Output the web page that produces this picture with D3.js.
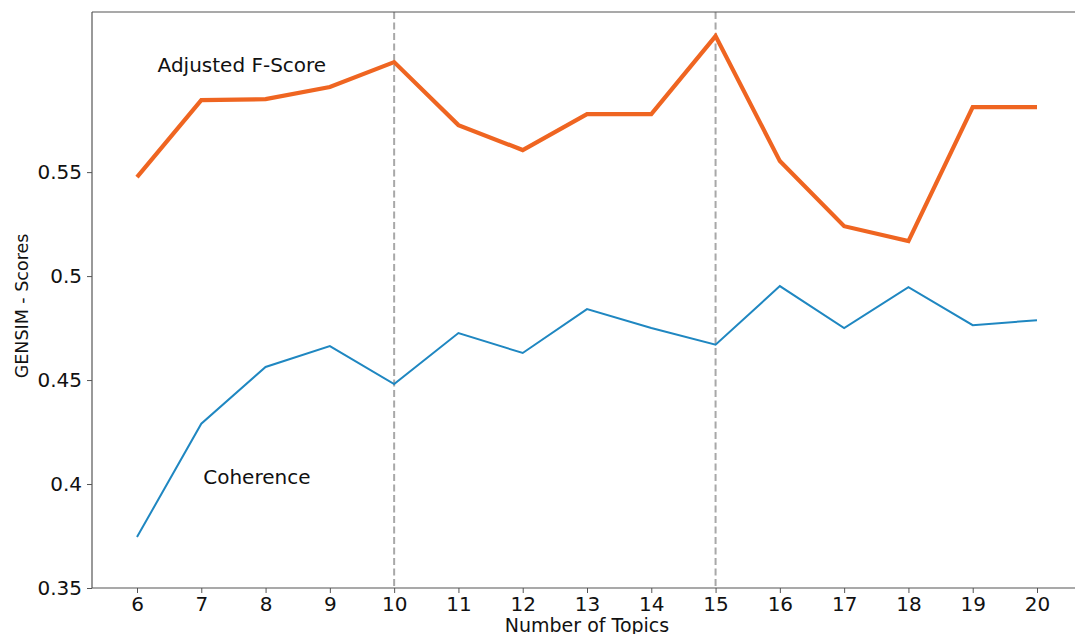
<!DOCTYPE html>
<html>
<head>
<meta charset="utf-8">
<script src="https://cdn.jsdelivr.net/npm/d3@7"></script>
<style>
  html, body { margin: 0; padding: 0; background: #fff; }
  svg { display: block; font-family: "DejaVu Sans", sans-serif; }
</style>
</head>
<body>
<svg id="chart" width="1075" height="634"></svg>
<script>
// Number of topics evaluated
const topics = [6, 7, 8, 9, 10, 11, 12, 13, 14, 15, 16, 17, 18, 19, 20];

// Adjusted F-Score per topic count
const fScore = [0.5476, 0.5846, 0.5851, 0.5909, 0.6029, 0.5726, 0.5606, 0.5779,
                0.5779, 0.6154, 0.5553, 0.5240, 0.5168, 0.5813, 0.5813];

// Coherence per topic count
const coherence = [0.3745, 0.4290, 0.4563, 0.4663, 0.4481, 0.4726, 0.4630, 0.4841,
                   0.4750, 0.4670, 0.4952, 0.4750, 0.4947, 0.4764, 0.4788];

// Tick values
const yTicks = [0.35, 0.40, 0.45, 0.50, 0.55];
const yTickLabels = ["0.35", "0.4", "0.45", "0.5", "0.55"];
const xTicks = topics;

// Highlighted topic counts
const markers = [10, 15];

// Series annotations
const labels = [
  { text: "Adjusted F-Score", x: 6.32, y: 0.598 },
  { text: "Coherence", x: 7.03, y: 0.400 }
];

const svg = d3.select("#chart");
const plot = { left: 92, top: 12, right: 1082, bottom: 588 };

const x = d3.scaleLinear().domain([5.3, 20.7]).range([plot.left, plot.right]);
const y = d3.scaleLinear().domain([0.35, 0.627]).range([plot.bottom, plot.top]);

// Dashed reference lines
svg.append("g").selectAll("line")
  .data(markers)
  .join("line")
  .attr("x1", d => x(d)).attr("x2", d => x(d))
  .attr("y1", plot.top).attr("y2", plot.bottom)
  .attr("stroke", "#a8a8a8")
  .attr("stroke-width", 2)
  .attr("stroke-dasharray", "7,3.5");

const line = d3.line().x((d, i) => x(topics[i])).y(d => y(d));

svg.append("path")
  .datum(fScore)
  .attr("d", line)
  .attr("fill", "none")
  .attr("stroke", "#ef6521")
  .attr("stroke-width", 4.2)
  .attr("stroke-linejoin", "miter");

svg.append("path")
  .datum(coherence)
  .attr("d", line)
  .attr("fill", "none")
  .attr("stroke", "#1f87c1")
  .attr("stroke-width", 2)
  .attr("stroke-linejoin", "miter");

// Axes
const xAxis = d3.axisBottom(x).tickValues(xTicks).tickFormat(d3.format("d"))
  .tickSize(5).tickPadding(4);
const yAxis = d3.axisLeft(y).tickValues(yTicks).tickFormat((d, i) => yTickLabels[i])
  .tickSize(5).tickPadding(5);

const gx = svg.append("g").attr("transform", `translate(0,${plot.bottom})`).call(xAxis);
const gy = svg.append("g").attr("transform", `translate(${plot.left},0)`).call(yAxis);

[gx, gy].forEach(g => {
  g.select(".domain").remove();
  g.selectAll(".tick line").attr("stroke", "#555").attr("stroke-width", 1);
  g.selectAll(".tick text").attr("fill", "#111")
    .style("font-family", "DejaVu Sans").style("font-size", "20px");
});

// Spines
const spines = [
  [plot.left, plot.top, plot.left, plot.bottom],
  [plot.left, plot.top, plot.right, plot.top],
  [plot.left, plot.bottom, plot.right, plot.bottom],
  [plot.right, plot.top, plot.right, plot.bottom]
];
svg.append("g").selectAll("line")
  .data(spines)
  .join("line")
  .attr("x1", d => d[0]).attr("y1", d => d[1])
  .attr("x2", d => d[2]).attr("y2", d => d[3])
  .attr("stroke", "#555").attr("stroke-width", 1.2);

// Series annotations
svg.append("g").selectAll("text")
  .data(labels)
  .join("text")
  .attr("x", d => x(d.x)).attr("y", d => y(d.y))
  .attr("fill", "#111")
  .style("font-size", "20px")
  .text(d => d.text);

// Axis titles
svg.append("text")
  .attr("x", (plot.left + plot.right) / 2).attr("y", 631.5)
  .attr("text-anchor", "middle")
  .attr("fill", "#111")
  .style("font-size", "19px")
  .text("Number of Topics");

svg.append("text")
  .attr("transform", `translate(28,306) rotate(-90)`)
  .attr("text-anchor", "middle")
  .attr("fill", "#111")
  .style("font-size", "17.5px")
  .text("GENSIM - Scores");
</script>
</body>
</html>
